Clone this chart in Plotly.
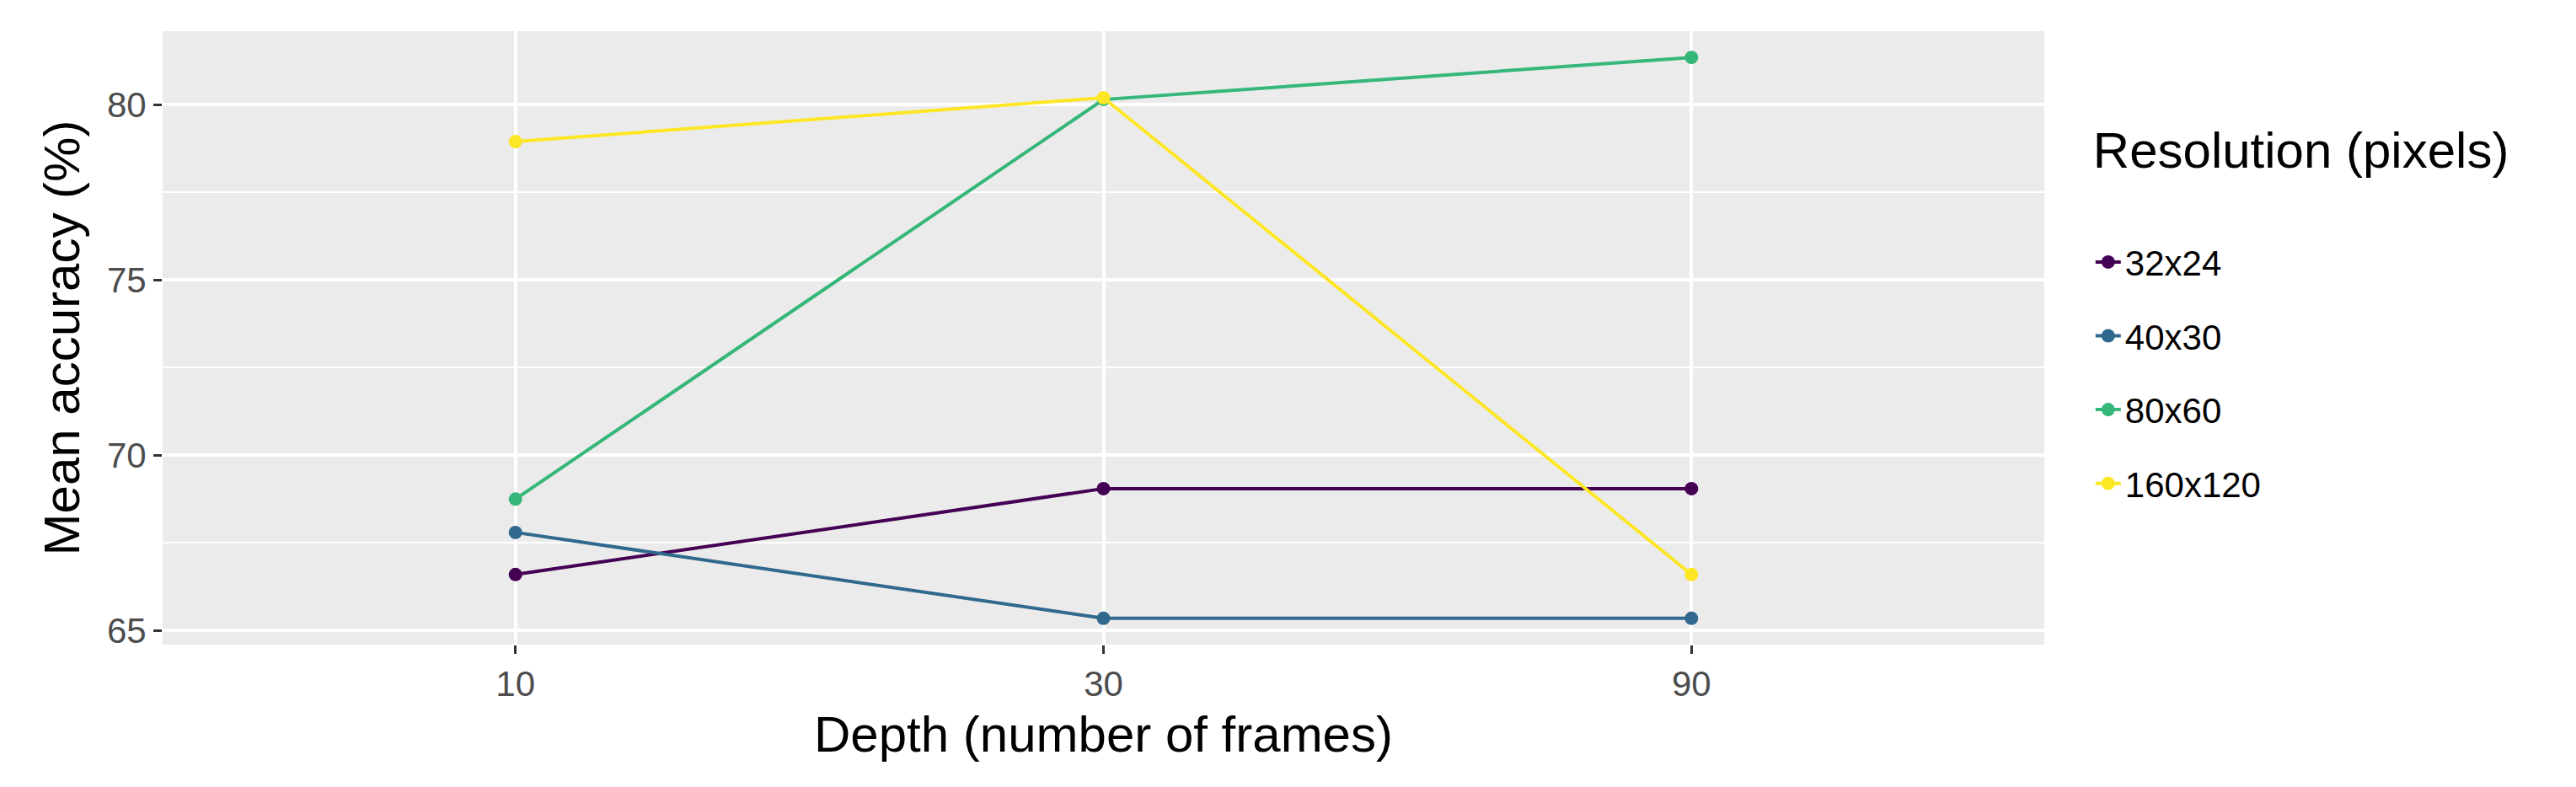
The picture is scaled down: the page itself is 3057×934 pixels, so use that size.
import plotly.graph_objects as go

depth = ["10", "30", "90"]
series_names = ["32x24", "40x30", "80x60", "160x120"]
acc_32x24 = [66.6, 69.05, 69.05]
acc_40x30 = [67.8, 65.35, 65.35]
acc_80x60 = [68.75, 80.15, 81.35]
acc_160x120 = [78.95, 80.2, 66.6]
colors = ["#440154", "#31688E", "#35B779", "#FDE725"]

fig = go.Figure()
for name, vals, c in zip(series_names, [acc_32x24, acc_40x30, acc_80x60, acc_160x120], colors):
    fig.add_trace(go.Scatter(x=depth, y=vals, mode="lines+markers", name=name,
                             legendgroup=name,
                             line=dict(color=c, width=4), marker=dict(color=c, size=16)))

font = "Liberation Sans, Arial, sans-serif"
fig.update_layout(
    width=3057, height=934,
    margin=dict(l=185, r=639, t=29, b=177),
    paper_bgcolor="white", plot_bgcolor="#EBEBEB",
    font=dict(family=font, size=42, color="#4D4D4D"),
    legend=dict(title=dict(text="Resolution (pixels)<br> ", font=dict(size=60, color="black")),
                font=dict(size=42, color="black"), x=1.025, xanchor="left", y=0.55, yanchor="middle",
                tracegroupgap=30, bgcolor="white"),
    showlegend=True,
)
fig.update_xaxes(type="category", range=[-0.6, 2.6], showgrid=True, gridcolor="white", gridwidth=4,
                 ticks="outside", ticklen=10, tickwidth=3, tickcolor="#333333",
                 tickfont=dict(size=42, color="#4D4D4D"), zeroline=False,
                 title=dict(text="Depth (number of frames)", font=dict(size=60, color="black"), standoff=15))
fig.update_yaxes(range=[64.6, 82.1], tickvals=[65, 70, 75, 80], showgrid=True, gridcolor="white", gridwidth=4,
                 minor=dict(tickvals=[67.5, 72.5, 77.5], showgrid=True, gridcolor="white", gridwidth=2),
                 ticks="outside", ticklen=10, tickwidth=3, tickcolor="#333333",
                 tickfont=dict(size=42, color="#4D4D4D"), zeroline=False,
                 title=dict(text="Mean accuracy (%)", font=dict(size=60, color="black"), standoff=12))
fig.write_html("out.html")
